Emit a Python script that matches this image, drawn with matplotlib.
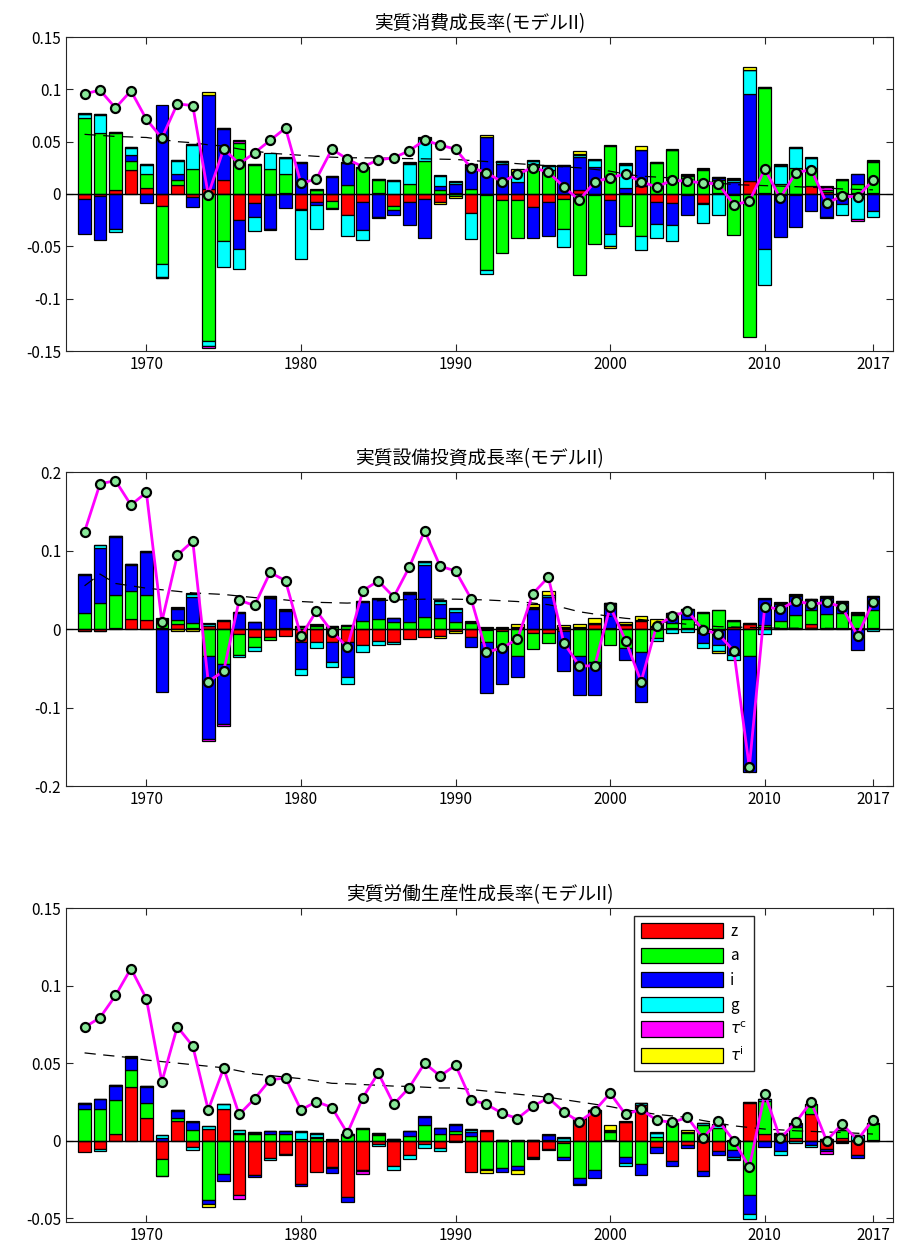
import matplotlib
matplotlib.use("Agg")
import matplotlib.pyplot as plt
import numpy as np

plt.rcParams['font.family'] = ['Noto Sans CJK JP', 'DejaVu Sans']

years = np.arange(1966, 2018)

# ---- panel 1: consumption ----
c_z = [-0.0048, -0.002, 0.0035, 0.023, 0.0054, -0.011, 0.0086, -0.003, 0.005, 0.013,
       -0.025, -0.009, -0.001, 0.001, -0.0144, -0.0077, -0.007, -0.0205, -0.008, 0.001,
       -0.011, -0.0077, -0.005, -0.008, 0.001, -0.018, -0.001, -0.0054, -0.006, -0.012,
       -0.0077, -0.005, 0.004, -0.001, -0.006, 0.001, 0.0074, -0.0077, -0.0086, -0.001,
       -0.009, 0.001, -0.001, 0.012, 0.001, -0.001, -0.001, 0.0074, 0.002, 0.001,
       0.001, 0.001]
c_a = [0.073, 0.0586, 0.055, 0.009, 0.014, -0.056, 0.0045, 0.024, -0.14, -0.045,
       0.049, 0.028, 0.024, 0.018, -0.001, 0.0035, -0.0064, 0.009, 0.025, 0.012,
       -0.004, 0.0096, 0.032, 0.0035, -0.002, 0.005, -0.072, -0.051, -0.036, 0.0285,
       0.0234, -0.028, -0.077, -0.047, 0.046, -0.031, -0.0406, 0.030, 0.042, 0.017,
       0.0234, 0.012, -0.038, -0.137, 0.100, 0.0096, 0.025, 0.0176, 0.002, 0.012,
       0.009, 0.030]
c_i = [-0.033, -0.0416, -0.033, 0.005, -0.0086, 0.085, 0.006, -0.009, 0.09, 0.049,
       -0.0275, -0.013, -0.032, -0.013, 0.030, -0.0026, 0.016, 0.021, -0.026, -0.022,
       -0.005, -0.022, -0.037, 0.004, 0.009, 0.023, 0.054, 0.029, 0.011, -0.030,
       -0.032, 0.027, 0.031, 0.026, -0.0326, 0.005, 0.0346, -0.021, -0.0214, -0.019,
       -0.001, 0.002, 0.011, 0.084, -0.0525, -0.040, -0.031, -0.0166, -0.022, -0.010,
       0.009, -0.0166]
c_g = [0.003, 0.017, -0.003, 0.007, 0.0083, -0.012, 0.0128, 0.023, -0.005, -0.025,
       -0.0195, -0.013, 0.0147, 0.015, -0.047, -0.023, 0.001, -0.0195, -0.010, 0.001,
       0.0128, 0.0195, 0.021, 0.010, 0.001, -0.025, -0.003, 0.002, 0.0096, 0.0026,
       0.003, -0.018, 0.0025, 0.0064, -0.011, 0.022, -0.0128, -0.0134, -0.0147, 0.001,
       -0.018, -0.020, 0.0026, 0.0224, -0.0346, 0.0176, 0.019, 0.009, -0.001, -0.0096,
       -0.024, -0.0058]
c_tc = [0.0005, 0.0005, 0.0005, 0.0005, 0.0005, -0.001, 0.0005, 0.0005, -0.002, 0.001,
        0.002, 0.0005, -0.0005, 0.0005, 0.0005, 0.0005, -0.001, 0.0005, 0.0005, -0.001,
        0.0005, 0.0005, 0.0005, 0.0005, 0.001, 0.0005, 0.0005, 0.0005, 0.0005, 0.0005,
        0.0005, 0.0005, 0.001, 0.0005, 0.0005, 0.0005, 0.0005, 0.0005, 0.0005, 0.0005,
        0.0005, 0.001, 0.0005, 0.0005, 0.001, 0.0005, 0.0005, 0.0005, 0.003, 0.0005,
        -0.0016, 0.001]
c_ti = [0.0005, 0.0005, 0.0005, 0.0005, 0.0005, -0.0005, 0.0005, 0.0005, 0.0025, 0.0005,
        0.0005, 0.0005, -0.001, 0.0005, 0.0005, 0.0005, 0.0005, 0.0005, 0.0005, 0.0005,
        0.0005, 0.0005, 0.0005, -0.002, -0.002, 0.0005, 0.002, 0.0005, 0.0026, 0.0005,
        0.0005, 0.0005, 0.003, 0.0005, -0.002, 0.0015, 0.003, 0.0005, 0.0005, 0.0005,
        0.0005, 0.0005, 0.0015, 0.002, 0.0005, 0.0005, 0.0005, 0.0005, 0.0005, 0.0005,
        0.0005, 0.0005]
c_actual = [0.0957, 0.0992, 0.0822, 0.0986, 0.0714, 0.0534, 0.0861, 0.0845, -0.0006, 0.0432,
            0.0288, 0.0394, 0.0512, 0.063, 0.0102, 0.0144, 0.0429, 0.0333, 0.026, 0.0326,
            0.0346, 0.0413, 0.0515, 0.0467, 0.0429, 0.025, 0.0205, 0.0115, 0.019, 0.0253,
            0.0208, 0.007, -0.006, 0.0115, 0.0157, 0.019, 0.0118, 0.0067, 0.0131, 0.0122,
            0.0106, 0.0096, -0.0102, -0.007, 0.0237, -0.0038, 0.0202, 0.0234, -0.0086, -0.0022,
            -0.0026, 0.0131]
c_trend = [0.057, 0.056, 0.055, 0.0545, 0.054, 0.052, 0.050, 0.049, 0.047, 0.0458,
           0.043, 0.041, 0.039, 0.038, 0.037, 0.036, 0.0352, 0.0346, 0.0346, 0.0345,
           0.034, 0.0338, 0.0336, 0.0333, 0.033, 0.032, 0.031, 0.030, 0.029, 0.028,
           0.027, 0.026, 0.025, 0.0235, 0.0218, 0.019, 0.017, 0.0162, 0.0153, 0.0144,
           0.012, 0.0105, 0.009, 0.0085, 0.008, 0.0075, 0.007, 0.0064, 0.0058, 0.0048,
           0.0044, 0.004]

# ---- panel 2: investment ----
k_z = [-0.002, -0.0025, 0.001, 0.0123, 0.0115, 0.001, 0.007, 0.001, 0.004, 0.0106,
       -0.007, -0.0106, -0.0098, -0.0085, -0.016, -0.016, -0.016, -0.016, -0.0204, -0.015,
       -0.016, -0.0128, -0.0098, -0.009, -0.003, -0.0098, -0.001, -0.003, 0.001, -0.0055,
       -0.0047, -0.003, 0.001, 0.006, 0.001, 0.005, 0.0106, 0.002, 0.001, 0.001,
       -0.0055, -0.0015, 0.002, 0.006, 0.002, 0.001, 0.001, 0.007, 0.001, 0.001,
       0.001, 0.001]
k_a = [0.020, 0.0327, 0.042, 0.036, 0.032, 0.010, 0.005, 0.007, -0.035, -0.044,
       -0.0255, -0.012, -0.004, 0.001, 0.003, 0.004, 0.003, 0.004, 0.0106, 0.0123,
       0.0085, 0.009, 0.0157, 0.0136, 0.009, 0.008, -0.016, -0.020, -0.035, -0.020,
       -0.0128, 0.001, -0.035, -0.0416, -0.020, -0.024, -0.029, -0.012, 0.007, 0.0115,
       0.021, 0.024, 0.008, -0.0344, 0.003, 0.009, 0.017, 0.017, 0.018, 0.019,
       0.017, 0.023]
k_i = [0.049, 0.071, 0.074, 0.033, 0.054, -0.080, 0.013, 0.033, -0.105, -0.0765,
       0.021, 0.0085, 0.040, 0.022, -0.035, 0.001, -0.0255, -0.0455, 0.024, 0.026,
       0.005, 0.036, 0.066, 0.0187, 0.0128, -0.0128, -0.065, -0.0476, -0.026, 0.026,
       0.041, -0.050, -0.049, -0.0425, 0.0306, -0.016, -0.0646, 0.001, 0.012, 0.012,
       -0.0128, -0.019, -0.033, -0.148, 0.033, 0.022, 0.024, 0.0128, 0.021, 0.0136,
       -0.027, 0.017]
k_g = [0.001, 0.003, 0.001, 0.001, 0.001, 0.001, 0.002, 0.004, 0.003, 0.001,
       -0.003, -0.0055, 0.001, 0.001, -0.0077, -0.0085, -0.007, -0.0085, -0.0085, -0.0055,
       -0.003, 0.001, 0.0034, 0.004, 0.004, 0.001, 0.001, 0.001, 0.001, 0.001,
       0.002, 0.001, 0.001, 0.001, 0.001, 0.001, 0.001, -0.003, -0.0047, -0.0034,
       -0.0055, -0.008, -0.0064, 0.001, -0.007, 0.001, 0.001, 0.001, 0.001, 0.001,
       0.001, -0.003]
k_tc = [-0.001, -0.0005, 0.0005, 0.0005, 0.0005, 0.0005, 0.0005, 0.0005, -0.0025, -0.003,
        0.0005, 0.0005, 0.0005, 0.0005, 0.0005, 0.0005, 0.0005, 0.0005, 0.0005, 0.0005,
        0.0005, 0.0005, 0.0005, 0.0005, 0.0005, 0.0005, 0.0005, 0.0005, 0.0005, 0.0005,
        0.0005, 0.0005, 0.001, 0.0005, 0.0005, 0.001, 0.0005, 0.0005, 0.0005, 0.0005,
        0.0005, 0.0005, 0.0005, 0.0005, 0.0005, 0.0005, 0.0005, 0.0005, 0.0005, 0.0005,
        0.002, 0.0005]
k_ti = [0.0005, 0.0005, 0.0005, 0.0005, 0.0005, 0.002, -0.003, -0.003, 0.0005, 0.0005,
        0.0005, 0.0005, 0.0005, 0.0005, 0.0005, 0.0005, 0.0005, 0.0005, 0.0005, 0.0005,
        0.0005, 0.0005, 0.0005, -0.002, -0.002, 0.0005, 0.0005, 0.0005, 0.004, 0.004,
        0.005, 0.003, 0.004, 0.006, 0.0005, 0.002, 0.004, 0.009, 0.0005, 0.0005,
        0.0005, -0.0025, 0.0005, 0.0005, 0.0005, 0.0005, 0.0005, 0.0005, 0.0005, 0.0005,
        0.0005, 0.0005]
k_actual = [0.124, 0.185, 0.189, 0.158, 0.174, 0.0094, 0.094, 0.112, -0.067, -0.0535,
            0.0366, 0.030, 0.072, 0.0616, -0.0094, 0.023, -0.0034, -0.023, 0.0489, 0.0612,
            0.0408, 0.0786, 0.125, 0.080, 0.074, 0.0387, -0.0298, -0.0238, -0.0132, 0.045,
            0.066, -0.0174, -0.047, -0.047, 0.0285, -0.0149, -0.067, 0.004, 0.016, 0.023,
            -0.001, -0.0064, -0.028, -0.176, 0.0285, 0.025, 0.036, 0.0315, 0.034, 0.028,
            -0.0085, 0.034]
k_trend = [0.055, 0.070, 0.058, 0.055, 0.052, 0.050, 0.048, 0.046, 0.045, 0.044,
           0.042, 0.040, 0.039, 0.037, 0.035, 0.034, 0.0335, 0.033, 0.034, 0.036,
           0.037, 0.0375, 0.038, 0.038, 0.038, 0.0375, 0.037, 0.036, 0.035, 0.033,
           0.031, 0.027, 0.022, 0.019, 0.016, 0.0136, 0.012, 0.010, 0.008, 0.006,
           0.0045, 0.003, 0.0025, 0.002, 0.0015, 0.001, 0.001, 0.001, 0.0008, 0.0005,
           0.0003, 0.0]

# ---- panel 3: labour productivity ----
p_z = [-0.0075, -0.0053, 0.0043, 0.0348, 0.0145, -0.0118, 0.0128, -0.0038, 0.0075, 0.0203,
       -0.035, -0.0224, -0.0113, -0.0085, -0.028, -0.020, -0.017, -0.036, -0.0192, -0.002,
       -0.016, -0.009, -0.002, -0.0047, 0.0043, -0.020, 0.006, -0.0005, -0.0005, -0.0107,
       -0.0053, -0.0015, 0.014, 0.019, 0.0005, 0.012, 0.023, -0.0043, -0.0132, -0.003,
       -0.0197, -0.0064, -0.0005, 0.0246, 0.0043, 0.004, 0.0017, 0.017, -0.0053, 0.0017,
       -0.009, 0.0005]
p_a = [0.0203, 0.0207, 0.0218, 0.0105, 0.010, -0.0107, 0.0017, 0.0068, -0.0385, -0.0214,
       0.0043, 0.0043, 0.0043, 0.0043, 0.001, 0.002, -0.0005, 0.0036, 0.0075, 0.004,
       0.0005, 0.003, 0.0103, 0.0043, 0.002, 0.003, -0.018, -0.017, -0.0156, -0.0005,
       0.0005, -0.009, -0.024, -0.019, 0.005, -0.0107, -0.015, 0.0025, 0.0107, 0.005,
       0.0103, 0.0085, -0.0053, -0.035, 0.021, 0.0005, 0.007, 0.0064, 0.0005, 0.005,
       0.0005, 0.0103]
p_i = [0.0032, 0.006, 0.0092, 0.0081, 0.010, 0.0017, 0.0047, 0.0053, -0.0026, -0.0043,
       0.0005, -0.001, 0.0017, 0.0017, -0.001, 0.0005, -0.003, -0.0038, -0.0005, 0.0005,
       0.0003, 0.003, 0.005, 0.0038, 0.0038, 0.0026, -0.001, -0.0026, -0.0026, -0.0003,
       0.003, -0.002, -0.0036, -0.005, 0.0005, -0.0036, -0.007, -0.0036, -0.0028, -0.002,
       -0.0028, -0.0028, -0.005, -0.0124, -0.0038, -0.0064, 0.002, -0.003, -0.0015, -0.001,
       -0.002, -0.0005]
p_g = [0.0005, -0.0015, 0.0005, 0.0005, 0.0005, 0.002, 0.0005, -0.0019, 0.002, 0.0032,
       0.002, 0.0008, -0.001, -0.001, 0.0049, 0.002, 0.0005, 0.0005, 0.0005, -0.0015,
       -0.0026, -0.0028, -0.0026, -0.002, 0.0005, 0.0015, 0.0005, 0.0003, 0.0003, 0.0003,
       0.0005, 0.0017, 0.0005, 0.0005, 0.001, -0.0017, 0.001, 0.0025, 0.0005, 0.0005,
       0.001, 0.0017, -0.001, -0.003, 0.0015, -0.003, -0.0015, -0.001, 0.0003, 0.0003,
       0.003, 0.0003]
p_tc = [0.0002, 0.0002, 0.0002, 0.0002, 0.0002, -0.0003, 0.0002, 0.0002, 0.0002, 0.0002,
        -0.0026, 0.0002, 0.0002, 0.0002, 0.0002, 0.0002, 0.0002, 0.0002, -0.0015, 0.0002,
        0.0002, 0.0002, 0.0002, 0.0002, -0.001, 0.0002, 0.0002, 0.0002, 0.0002, 0.0002,
        -0.0005, 0.0002, -0.001, 0.0002, 0.0002, 0.0002, 0.0002, 0.0002, 0.0002, 0.0002,
        0.0002, 0.0002, -0.0005, 0.0002, 0.0002, 0.0002, 0.0002, 0.0002, -0.002, -0.0005,
        0.0002, 0.0002]
p_ti = [0.0002, 0.0002, 0.0002, 0.0002, 0.0002, 0.0002, 0.0002, 0.0002, -0.0017, 0.0002,
        0.0002, 0.0002, 0.0002, 0.0002, 0.0002, 0.0002, 0.0002, 0.0002, 0.0002, 0.0005,
        0.0002, 0.0002, 0.0002, 0.0002, 0.0002, 0.0002, -0.0015, 0.0002, -0.003, 0.0002,
        0.0002, 0.0002, 0.0002, 0.0002, 0.003, 0.0002, 0.0002, 0.0002, 0.0002, 0.0015,
        0.0002, 0.0002, 0.0002, 0.0002, 0.0002, 0.0002, 0.0002, 0.0002, 0.0002, 0.0002,
        0.0002, 0.0002]
p_actual = [0.0731, 0.0793, 0.0936, 0.111, 0.0915, 0.038, 0.0735, 0.061, 0.0199, 0.0468,
            0.0169, 0.0271, 0.0393, 0.0404, 0.0199, 0.0252, 0.0214, 0.0049, 0.0278, 0.0436,
            0.0235, 0.0342, 0.050, 0.0417, 0.0487, 0.0263, 0.0235, 0.0177, 0.0143, 0.0222,
            0.0276, 0.0186, 0.0122, 0.0194, 0.0306, 0.0169, 0.0203, 0.0132, 0.0118, 0.015,
            0.0017, 0.0128, 0.0, -0.0171, 0.0303, 0.0015, 0.0118, 0.025, 0.0, 0.0107,
            0.0006, 0.0135]
p_trend = [0.0566, 0.0555, 0.0545, 0.0535, 0.052, 0.051, 0.050, 0.049, 0.048, 0.047,
           0.045, 0.043, 0.042, 0.041, 0.040, 0.0385, 0.037, 0.0367, 0.0362, 0.0357,
           0.0352, 0.035, 0.0345, 0.034, 0.034, 0.033, 0.032, 0.031, 0.030, 0.029,
           0.028, 0.0265, 0.025, 0.0235, 0.022, 0.020, 0.0185, 0.017, 0.016, 0.015,
           0.013, 0.0113, 0.0096, 0.0085, 0.0075, 0.007, 0.0064, 0.006, 0.0056, 0.0053,
           0.0048, 0.0043]

labels = ['z', 'a', 'i', 'g', r'$\tau^{\rm c}$', r'$\tau^{\rm i}$']
colors = ['#ff0000', '#00ff00', '#0000ff', '#00ffff', '#ff00ff', '#ffff00']
titles = ['実質消費成長率(モデルII)', '実質設備投資成長率(モデルII)', '実質労働生産性成長率(モデルII)']
xticks = [1970, 1980, 1990, 2000, 2010, 2017]

panels = [
    dict(comps=[c_z, c_a, c_i, c_g, c_tc, c_ti], actual=c_actual, trend=c_trend,
         ylim=(-0.15, 0.15), yticks=[-0.15, -0.1, -0.05, 0, 0.05, 0.1, 0.15],
         ylabels=['-0.15', '-0.1', '-0.05', '0', '0.05', '0.1', '0.15']),
    dict(comps=[k_z, k_a, k_i, k_g, k_tc, k_ti], actual=k_actual, trend=k_trend,
         ylim=(-0.2, 0.2), yticks=[-0.2, -0.1, 0, 0.1, 0.2],
         ylabels=['-0.2', '-0.1', '0', '0.1', '0.2']),
    dict(comps=[p_z, p_a, p_i, p_g, p_tc, p_ti], actual=p_actual, trend=p_trend,
         ylim=(-0.0524, 0.15), yticks=[-0.05, 0, 0.05, 0.1, 0.15],
         ylabels=['-0.05', '0', '0.05', '0.1', '0.15']),
]

fig = plt.figure(figsize=(8.98, 12.5), dpi=100)
bottoms = [0.7192, 0.3712, 0.0224]

for k, (pan, bot) in enumerate(zip(panels, bottoms)):
    ax = fig.add_axes([0.0735, bot, 0.921, 0.2512])
    pos = np.zeros(len(years))
    neg = np.zeros(len(years))
    handles = []
    for vals, col, lab in zip(pan['comps'], colors, labels):
        v = np.asarray(vals)
        base = np.where(v >= 0, pos, neg)
        h = ax.bar(years, v, 0.82, bottom=base, color=col, edgecolor='black',
                   linewidth=0.9, label=lab, zorder=2)
        handles.append(h)
        pos += np.clip(v, 0, None)
        neg += np.clip(v, None, 0)
    ax.axhline(0, color='black', lw=1, zorder=3)
    ax.plot(years, pan['trend'], color='black', lw=0.9, ls=(0, (9, 6)), zorder=4)
    ax.plot(years, pan['actual'], color='#ff00ff', lw=2, marker='o', ms=6.5,
            mfc='#88e898', mec='black', mew=1.6, zorder=5)

    ax.set_xlim(1964.8, 2018.3)
    ax.set_ylim(*pan['ylim'])
    ax.set_xticks(xticks)
    ax.set_xticklabels([str(x) for x in xticks], fontsize=11)
    ax.set_yticks(pan['yticks'])
    ax.set_yticklabels(pan['ylabels'], fontsize=11)
    ax.tick_params(direction='in', top=True, right=True, length=5, width=0.8,
                   colors='#262626', labelcolor='black')
    for s in ax.spines.values():
        s.set_color('#262626')
        s.set_linewidth(0.8)
    ax.set_title(titles[k], fontsize=13.5, pad=6)

    if k == 2:
        ax.legend(handles=handles, loc='upper left', bbox_to_anchor=(0.683, 0.985),
                  fontsize=11, handlelength=5.4, handleheight=1.15, labelspacing=0.5,
                  fancybox=False, edgecolor='#262626', framealpha=1,
                  borderpad=0.45, handletextpad=0.45, borderaxespad=0.2)

fig.savefig('out.png', dpi=100)
